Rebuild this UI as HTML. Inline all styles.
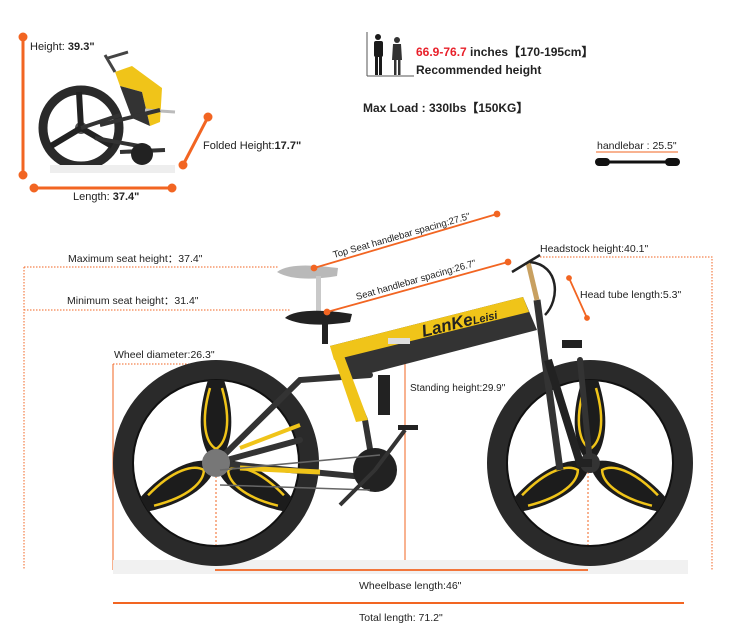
<!DOCTYPE html>
<html><head><meta charset="utf-8"><style>
body{margin:0;background:#fff;}
svg{display:block;}
text{font-family:"Liberation Sans",sans-serif;fill:#222;}
</style></head><body>
<svg width="750" height="634" viewBox="0 0 750 634" xmlns="http://www.w3.org/2000/svg">
<defs>
<g id="wheel">
<circle r="93" fill="none" stroke="#2a2a2a" stroke-width="20"/>
<circle r="83" fill="none" stroke="#111" stroke-width="2"/>
<g fill="#1c1c1c">
<path d="M-8,-83 C-22,-40 -14,-10 0,0 C14,-10 22,-40 8,-83Z"/>
<path d="M-8,-83 C-22,-40 -14,-10 0,0 C14,-10 22,-40 8,-83Z" transform="rotate(120)"/>
<path d="M-8,-83 C-22,-40 -14,-10 0,0 C14,-10 22,-40 8,-83Z" transform="rotate(240)"/>
</g>
<g fill="none" stroke="#f0c419" stroke-width="2.5">
<path d="M-6,-75 C-16,-40 -10,-20 0,-14 C10,-20 16,-40 6,-75" />
<path d="M-6,-75 C-16,-40 -10,-20 0,-14 C10,-20 16,-40 6,-75" transform="rotate(120)"/>
<path d="M-6,-75 C-16,-40 -10,-20 0,-14 C10,-20 16,-40 6,-75" transform="rotate(240)"/>
</g>
<circle r="10" fill="#333"/>
</g>
</defs>

<!-- folded bike -->
<g>
<circle cx="81" cy="128" r="38" fill="none" stroke="#2a2a2a" stroke-width="9"/>
<circle cx="81" cy="128" r="6" fill="#555"/>
<path d="M81,128 L79,92 M81,128 L112,146 M81,128 L51,146" stroke="#222" stroke-width="6"/>
<path d="M81,128 L120,115 M95,138 L150,148" stroke="#333" stroke-width="4"/>
<polygon points="115,72 132,66 162,88 160,122 150,126 142,92 120,86" fill="#f0c419"/>
<polygon points="120,86 142,92 150,126 132,118" fill="#333"/>
<path d="M115,72 L105,55 M108,58 L128,52" stroke="#444" stroke-width="3"/>
<path d="M145,110 L175,112" stroke="#bbb" stroke-width="3"/>
<path d="M100,125 L160,110 M120,152 L165,150" stroke="#333" stroke-width="4"/>
<circle cx="142" cy="154" r="11" fill="#222"/>
<rect x="50" y="165" width="125" height="8" fill="#eee"/>
</g>
<g stroke="#f26522" stroke-width="3" fill="#f26522">
<line x1="23" y1="37" x2="23" y2="175"/><circle cx="23" cy="37" r="3"/><circle cx="23" cy="175" r="3"/>
<line x1="34" y1="188" x2="172" y2="188"/><circle cx="34" cy="188" r="3"/><circle cx="172" cy="188" r="3"/>
<line x1="183" y1="165" x2="208" y2="117"/><circle cx="183" cy="165" r="3"/><circle cx="208" cy="117" r="3"/>
</g>
<text x="30" y="50" font-size="11">Height: <tspan font-weight="bold">39.3"</tspan></text>
<text x="73" y="200" font-size="11">Length: <tspan font-weight="bold">37.4"</tspan></text>
<text x="203" y="149" font-size="11">Folded Height:<tspan font-weight="bold">17.7"</tspan></text>

<!-- people -->
<g fill="#1a1a1a">
<line x1="367" y1="32" x2="367" y2="76" stroke="#555" stroke-width="1"/>
<line x1="367" y1="76" x2="414" y2="76" stroke="#555" stroke-width="1"/>
<circle cx="378" cy="37" r="3"/><rect x="374" y="41" width="9" height="16" rx="2"/><rect x="375" y="56" width="3" height="19"/><rect x="379" y="56" width="3" height="19"/>
<circle cx="397" cy="40" r="3" fill="#333"/><path d="M393,44 L401,44 L402,60 L392,60Z" fill="#333"/><rect x="394" y="60" width="2.5" height="15" fill="#333"/><rect x="398" y="60" width="2.5" height="15" fill="#333"/>
</g>
<text x="416" y="56" font-size="12" font-weight="bold"><tspan fill="#e8202a">66.9-76.7</tspan> inches【170-195cm】</text>
<text x="416" y="74" font-size="12" font-weight="bold">Recommended height</text>
<text x="363" y="112" font-size="12" font-weight="bold">Max Load : 330Ibs【150KG】</text>
<text x="597" y="149" font-size="10.5">handlebar : 25.5"</text>
<line x1="596" y1="152" x2="678" y2="152" stroke="#f26522" stroke-width="1"/>
<line x1="600" y1="162" x2="676" y2="162" stroke="#111" stroke-width="3"/>
<rect x="595" y="158" width="15" height="8" rx="4" fill="#111"/>
<rect x="665" y="158" width="15" height="8" rx="4" fill="#111"/>

<!-- dotted guides -->
<g stroke="#f26522" stroke-width="1" stroke-dasharray="1.5,1.5" fill="none">
<path d="M24,267 L278,267 M24,267 L24,570"/>
<path d="M24,310 L290,310"/>
<path d="M540,257 L712,257 L712,570"/>
<path d="M113,364 L218,364"/>
</g>
<g stroke="#f26522" stroke-width="1" fill="none">
<line x1="113" y1="364" x2="113" y2="570"/>
<line x1="405" y1="328" x2="405" y2="562"/>
<line x1="216" y1="440" x2="216" y2="570" stroke-dasharray="2,2"/>
<line x1="588" y1="440" x2="588" y2="570" stroke-dasharray="2,2"/>
</g>

<!-- bike -->
<rect x="113" y="560" width="575" height="14" fill="#f1f1f1"/>
<use href="#wheel" x="216" y="463"/>
<use href="#wheel" x="590" y="463"/>
<!-- rear triangle -->
<g stroke="#333" stroke-width="6" fill="none" stroke-linecap="round">
<path d="M216,463 L375,478"/>
<path d="M216,463 L300,380 L370,375"/>
<path d="M216,463 L300,440"/>
<path d="M340,360 L365,420 L375,478"/>
<path d="M580,360 L590,463"/>
</g>
<path d="M240,448 L300,425" stroke="#f0c419" stroke-width="4"/>
<path d="M240,468 L320,472" stroke="#f0c419" stroke-width="5"/>
<circle cx="375" cy="470" r="22" fill="#222"/>
<circle cx="216" cy="463" r="14" fill="#777"/>
<path d="M220,470 L380,455 M220,485 L370,490" stroke="#666" stroke-width="1.5"/>
<rect x="378" y="375" width="12" height="40" fill="#222"/>
<!-- main frame -->
<polygon points="330,346 523,297 537,330 344,380" fill="#333"/>
<polygon points="330,346 523,297 529,312 334,360" fill="#f0c419"/>
<polygon points="330,346 340,345 368,420 356,422" fill="#f0c419"/>
<text x="420" y="330" font-size="17" font-weight="bold" font-style="italic" fill="#222" transform="rotate(-14 450 320)">LanKe<tspan font-size="11">Leisi</tspan></text>
<rect x="388" y="338" width="22" height="6" fill="#ddd"/>
<!-- head tube & fork -->
<path d="M537,300 L545,360 L560,470" stroke="#333" stroke-width="7" fill="none"/>
<path d="M548,360 L580,463 L592,463" stroke="#222" stroke-width="8" fill="none"/>
<path d="M537,300 L528,262" stroke="#c8a060" stroke-width="5"/>
<path d="M512,272 L540,255 M530,262 C560,265 560,300 545,315" stroke="#222" stroke-width="2.5" fill="none"/>
<rect x="562" y="340" width="20" height="8" fill="#222"/>
<!-- seats -->
<g opacity="0.45"><path d="M277,272 C290,262 320,266 338,268 L337,276 C315,280 290,280 277,272Z" fill="#666"/><rect x="316" y="276" width="5" height="40" fill="#888"/></g>
<path d="M285,318 C295,308 330,310 352,314 L350,322 C325,326 300,326 285,318Z" fill="#222"/>
<rect x="322" y="322" width="6" height="22" fill="#222"/>
<!-- pedal -->
<path d="M375,470 L405,430 M375,470 L340,505" stroke="#333" stroke-width="4"/>
<rect x="398" y="425" width="20" height="5" fill="#222"/>

<!-- orange measurement lines -->
<g stroke="#f26522" stroke-width="1.8" fill="#f26522">
<line x1="314" y1="268" x2="497" y2="214"/><circle cx="314" cy="268" r="2.5"/><circle cx="497" cy="214" r="2.5"/>
<line x1="327" y1="312" x2="508" y2="262"/><circle cx="327" cy="312" r="2.5"/><circle cx="508" cy="262" r="2.5"/>
<line x1="569" y1="278" x2="587" y2="318"/><circle cx="569" cy="278" r="2"/><circle cx="587" cy="318" r="2"/>
<line x1="215" y1="570" x2="588" y2="570"/>
<line x1="113" y1="603" x2="684" y2="603" stroke-width="2"/>
</g>

<text x="68" y="262" font-size="10.5">Maximum seat height：37.4"</text>
<text x="67" y="304" font-size="10.5">Minimum seat height：31.4"</text>
<text x="334" y="258" font-size="9.5" transform="rotate(-16 334 258)">Top Seat handlebar spacing:27.5"</text>
<text x="357" y="300" font-size="9.5" transform="rotate(-16 357 300)">Seat handlebar spacing:26.7"</text>
<text x="540" y="252" font-size="10.5">Headstock height:40.1"</text>
<text x="580" y="298" font-size="10.5">Head tube length:5.3"</text>
<text x="114" y="358" font-size="10.5">Wheel diameter:26.3"</text>
<text x="410" y="391" font-size="10">Standing height:29.9"</text>
<text x="359" y="589" font-size="10.5">Wheelbase length:46"</text>
<text x="359" y="621" font-size="10.5">Total length: 71.2"</text>
</svg>
</body></html>
